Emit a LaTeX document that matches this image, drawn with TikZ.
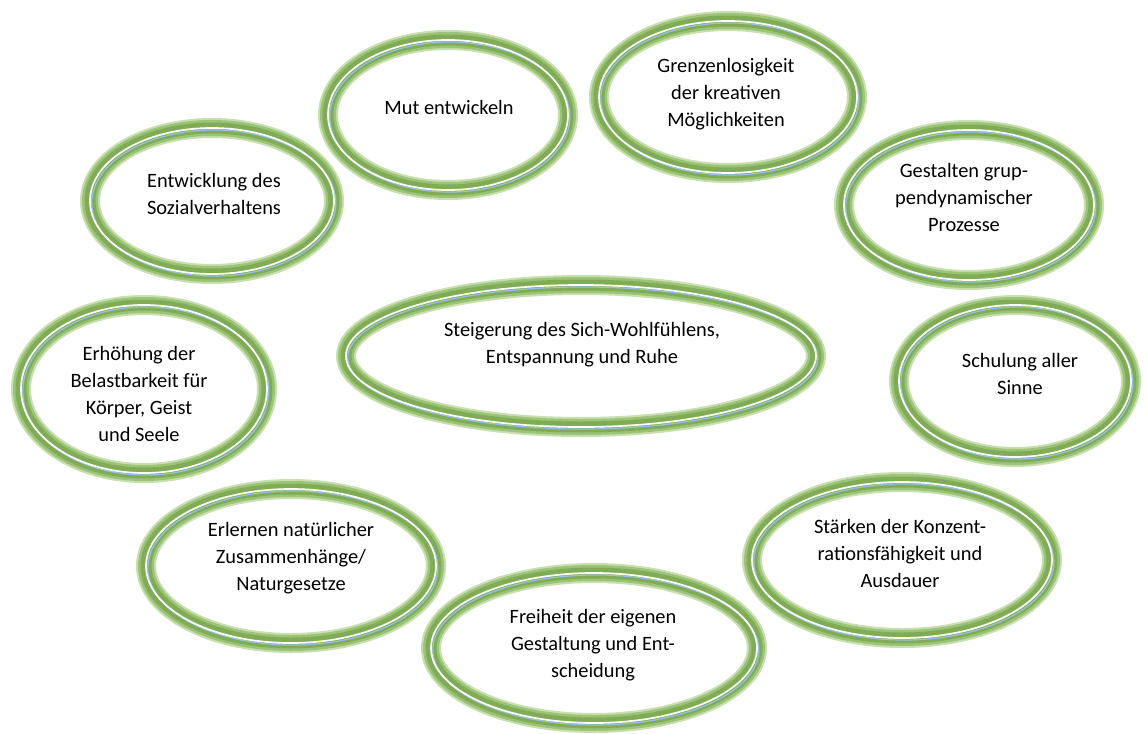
\documentclass[tikz,border=0pt]{standalone}
\usepackage{fontspec}
\setmainfont{Carlito}
\usetikzlibrary{shapes.geometric}
\definecolor{ringgreen}{RGB}{128,172,86}
\definecolor{ringsoft}{RGB}{156,196,118}
\definecolor{ringhaze}{RGB}{200,224,176}
\definecolor{ringblue}{RGB}{150,195,228}
\tikzset{
  bubble/.style={ellipse, inner sep=0pt,
    preaction={fill=white},
    preaction={draw=ringhaze, line width=20pt},
    preaction={draw=ringsoft, line width=16pt},
    draw=ringgreen, line width=11pt},
  bubbletext/.style={align=center, font=\fontsize{20.4}{27}\selectfont, text=black, inner sep=0pt},
  whiteline/.style={draw=white, line width=1.7pt},
  blueline/.style={draw=ringblue, line width=1.2pt}
}
% #1 name, #2 x, #3 y, #4 rx, #5 ry (outer extents incl. haze)
\newcommand{\mybubble}[5]{%
  \node[bubble, minimum width={2*#4-20}, minimum height={2*#5-20}] (#1) at (#2,#3) {};
  \draw[blueline] ([xshift=1.8pt, yshift=-2pt]#1.center) ellipse [x radius={#4-10}, y radius={#5-10}];
  \draw[whiteline] (#1.center) ellipse [x radius={#4-10}, y radius={#5-10}];
}
\begin{document}
\begin{tikzpicture}[x=1pt, y=-1pt]
\useasboundingbox[fill=white] (0,0) rectangle (1147,733);
\mybubble{entw}{212}{201}{132}{83}
\mybubble{mut}{448}{115}{130}{85}
\mybubble{grenz}{728}{97}{139}{86}
\mybubble{gest}{969}{205}{135}{85}
\mybubble{steig}{581}{356}{245}{81}
\mybubble{erh}{144}{389}{133}{94}
\mybubble{schul}{1015}{381}{126}{86}
\mybubble{erl}{291}{566}{155}{87}
\mybubble{staerk}{902}{560}{160}{88}
\mybubble{frei}{594}{648}{173}{85}

\node[bubbletext] (mutT) at (449,107) {Mut entwickeln};
\node[bubbletext] (grenzT) at (726,94) {Grenzenlosigkeit\\der kreativen\\Möglichkeiten};
\node[bubbletext] (entwT) at (214,194) {Entwicklung des\\Sozialverhaltens};
\node[bubbletext] (gestT) at (964,197) {Gestalten grup-\\pendynamischer\\Prozesse};
\node[bubbletext] (steigT) at (582,345) {Steigerung des Sich-Wohlfühlens,\\Entspannung und Ruhe};
\node[bubbletext] (erhT) at (139,394) {Erhöhung der\\Belastbarkeit für\\Körper, Geist\\und Seele};
\node[bubbletext] (schulT) at (1020,374) {Schulung aller\\Sinne};
\node[bubbletext] (erlT) at (291,558) {Erlernen natürlicher\\Zusammenhänge/\\Naturgesetze};
\node[bubbletext] (staerkT) at (900,553) {Stärken der Konzent-\\rationsfähigkeit und\\Ausdauer};
\node[bubbletext] (freiT) at (593,645) {Freiheit der eigenen\\Gestaltung und Ent-\\scheidung};
\end{tikzpicture}
\end{document}
